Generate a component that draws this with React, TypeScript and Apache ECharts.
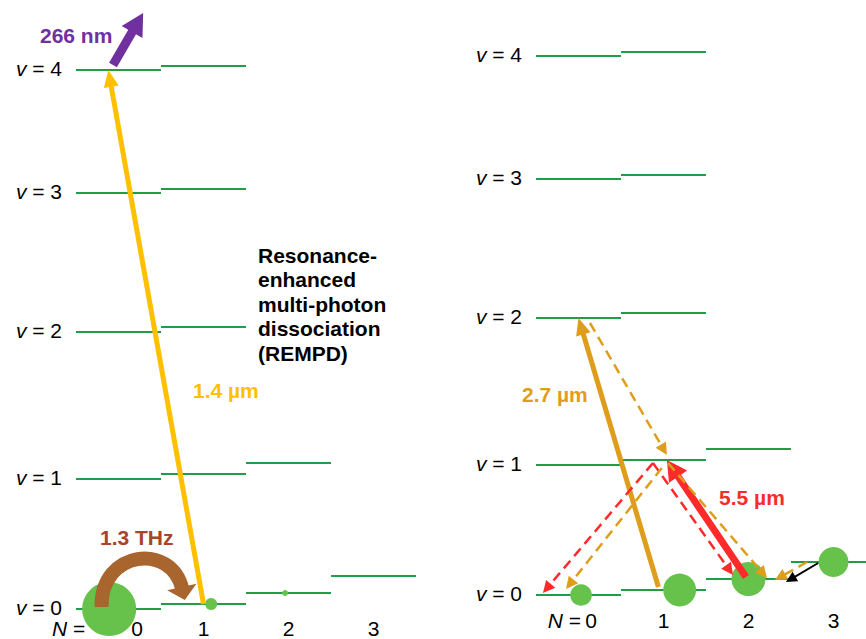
import React, { useEffect, useRef } from "react";
import * as echarts from "echarts";

// Rovibrational term energies (arbitrary units), one row per vibrational level v,
// one entry per rotational level N.
const levelEnergy: number[][] = [
  [0, 5, 16, 33], // v = 0
  [130, 135, 146], // v = 1
  [277, 282], // v = 2
  [416, 420], // v = 3
  [539, 543], // v = 4
];

const rotationalN = [0, 1, 2, 3];

// Relative populations of the v = 0 rotational levels, and where each blob sits along its level.
const popLeft = [0.81, 0.04, 0.01, 0];
const popLeftShift = [-0.11, 0.09, -0.04, 0];
const popRight = [0.13, 0.3, 0.32, 0.25];
const popRightShift = [0.03, 0.19, 0, 0];

const E = (v: number, n: number) => levelEnergy[v][n];

// Transition arrows: [N start, energy start, N end, energy end, style index]
const arrowsLeft: number[][] = [
  [1.0, E(0, 1), -0.12, E(4, 0), 0], // 1.4 µm overtone
  [-0.065, 544, 0.29, 596, 1], // 266 nm dissociation
];
const thzArc: number[][] = [[-0.2, 2, 0.78, 9]]; // 1.3 THz rotational transfer

const arrowsRight: number[][] = [
  [0.94, 8, 0, E(2, 0), 2], // 2.7 µm pump
  [1.97, 18, 1.04, E(1, 1), 3], // 5.5 µm pump
  [0.135, 272, 1.04, 140, 4], // decay v=2 -> v=1
  [0.876, 132, -0.418, 2, 5], // decay v=1 -> N=0
  [0.876, 132, 1.818, 20, 5], // decay v=1 -> N=2
  [0.98, 127, -0.147, 6, 4],
  [1.053, 132, 2.218, 17, 4],
  [2.69, 33, 2.31, 15, 4], // N=3 -> N=2
  [2.82, 32, 2.44, 13, 6], // collisional N=3 -> N=2
];

const annotationText = ["266 nm", "1.3 THz", "1.4 µm", "Resonance-\nenhanced\nmulti-photon\ndissociation\n(REMPD)", "2.7 µm", "5.5 µm"];
// [N, energy, text index, colour index]
const annotationsLeft: number[][] = [
  [-0.924, 574, 0, 0],
  [-0.218, 71.5, 1, 1],
  [0.876, 219, 2, 2],
  [1.641, 366, 3, 3],
];
const annotationsRight: number[][] = [
  [-0.665, 201, 4, 4],
  [1.653, 98, 5, 5],
];

const FONT = '"Liberation Sans", Arial, Helvetica, sans-serif';
const FS = 21;
const LEVEL_GREEN = "#1F9D48";
const BLOB_GREEN = "#66C24A";
const annotationColors = ["#7030A0", "#A9432A", "#FFC000", "#000000", "#DE9E1C", "#FF2A2A"];

const arrowStyles = [
  { color: "#FFC000", width: 5, head: 17, half: 7.5, dash: null },
  { color: "#7030A0", width: 9, head: 22, half: 12, dash: null },
  { color: "#DE9E1C", width: 5, head: 17, half: 7.5, dash: null },
  { color: "#FF2A2A", width: 7, head: 20, half: 11, dash: null },
  { color: "#DE9E1C", width: 2.5, head: 12, half: 6, dash: [10, 6] },
  { color: "#FF2A2A", width: 2.5, head: 12, half: 6, dash: [10, 6] },
  { color: "#000000", width: 2, head: 11, half: 5.5, dash: null },
];

const panels = [
  { nLabelX: [-0.39, 0.22, 1, 2, 3], nLabelDy: 19 },
  { nLabelX: [0.03, 0.147, 1, 2, 3], nLabelDy: 25 },
];

function arrowElement(p0: number[], p1: number[], st: any) {
  const dx = p1[0] - p0[0];
  const dy = p1[1] - p0[1];
  const len = Math.hypot(dx, dy) || 1;
  const ux = dx / len;
  const uy = dy / len;
  const px = -uy;
  const py = ux;
  const bx = p1[0] - ux * st.head;
  const by = p1[1] - uy * st.head;
  const ex = p1[0] - ux * st.head * 0.8;
  const ey = p1[1] - uy * st.head * 0.8;
  return {
    type: "group",
    children: [
      {
        type: "line",
        shape: { x1: p0[0], y1: p0[1], x2: ex, y2: ey },
        style: { stroke: st.color, lineWidth: st.width, lineDash: st.dash || undefined, lineCap: "butt" },
      },
      {
        type: "polygon",
        shape: { points: [[p1[0], p1[1]], [bx + px * st.half, by + py * st.half], [bx - px * st.half, by - py * st.half]] },
        style: { fill: st.color },
      },
    ],
  };
}

function levelData() {
  const out: number[][] = [];
  levelEnergy.forEach((row, v) => row.forEach((e, n) => out.push([n, e, v])));
  return out;
}

const italicRich = { i: { fontStyle: "italic", fontSize: FS, fontFamily: FONT, fill: "#000" } };

function buildOption() {
  const series: any[] = [];
  [0, 1].forEach((gi) => {
    const axis = { xAxisIndex: gi, yAxisIndex: gi };
    // energy levels with v labels
    series.push({
      type: "custom",
      ...axis,
      clip: false,
      z: 1,
      data: levelData(),
      renderItem: (params: any, api: any) => {
        const n = api.value(0);
        const e = api.value(1);
        const v = api.value(2);
        const a = api.coord([n - 0.5, e]);
        const b = api.coord([n + 0.5, e]);
        const children: any[] = [
          { type: "line", shape: { x1: a[0], y1: a[1], x2: b[0], y2: b[1] }, style: { stroke: LEVEL_GREEN, lineWidth: 2 } },
        ];
        if (n === 0) {
          children.push({
            type: "text",
            x: a[0] - 14,
            y: a[1] - 2,
            style: {
              text: `{i|v} = ${v}`,
              align: "right",
              verticalAlign: "middle",
              font: `${FS}px ${FONT}`,
              fill: "#000",
              rich: italicRich,
            },
          });
        }
        return { type: "group", children };
      },
    });
    // N labels under the v = 0 ladder
    series.push({
      type: "custom",
      ...axis,
      clip: false,
      z: 1,
      data: panels[gi].nLabelX.map((x, i) => [x, E(0, 0), i]),
      renderItem: (params: any, api: any) => {
        const i = api.value(2);
        const p = api.coord([api.value(0), api.value(1)]);
        const text = i === 0 ? "{i|N} =" : String(rotationalN[i - 1]);
        return {
          type: "text",
          x: p[0],
          y: p[1] + panels[gi].nLabelDy,
          style: {
            text,
            align: i === 0 ? "right" : "center",
            verticalAlign: "middle",
            font: `${FS}px ${FONT}`,
            fill: "#000",
            rich: italicRich,
          },
        };
      },
    });
    // populations
    const pops = gi === 0 ? popLeft : popRight;
    const shifts = gi === 0 ? popLeftShift : popRightShift;
    series.push({
      type: "scatter",
      ...axis,
      z: 2,
      silent: true,
      symbolSize: (val: number[]) => 60 * Math.sqrt(val[2]),
      itemStyle: { color: BLOB_GREEN, opacity: 1 },
      data: rotationalN.filter((n) => pops[n] > 0).map((n) => [n + shifts[n], E(0, n), pops[n]]),
    });
    // transitions
    series.push({
      type: "custom",
      ...axis,
      clip: false,
      z: 3,
      data: gi === 0 ? arrowsLeft : arrowsRight,
      renderItem: (params: any, api: any) => {
        const p0 = api.coord([api.value(0), api.value(1)]);
        const p1 = api.coord([api.value(2), api.value(3)]);
        return arrowElement(p0, p1, arrowStyles[api.value(4)]);
      },
    });
    // annotations
    series.push({
      type: "custom",
      ...axis,
      clip: false,
      z: 4,
      data: gi === 0 ? annotationsLeft : annotationsRight,
      renderItem: (params: any, api: any) => {
        const p = api.coord([api.value(0), api.value(1)]);
        const ti = api.value(2);
        const multi = annotationText[ti].includes("\n");
        return {
          type: "text",
          x: p[0],
          y: p[1],
          style: {
            text: annotationText[ti],
            align: "left",
            verticalAlign: multi ? "top" : "middle",
            font: `bold ${FS}px ${FONT}`,
            lineHeight: multi ? 24.5 : undefined,
            fill: annotationColors[api.value(3)],
          },
        };
      },
    });
  });

  // curved rotational-transfer arrow (1.3 THz)
  series.push({
    type: "custom",
    xAxisIndex: 0,
    yAxisIndex: 0,
    clip: false,
    z: 3,
    data: thzArc,
    renderItem: (params: any, api: any) => {
      const s = api.coord([api.value(0), api.value(1)]);
      const t = api.coord([api.value(2), api.value(3)]);
      const color = "#A8652D";
      const base = [t[0] - 3, t[1] - 13];
      const dx = t[0] - base[0];
      const dy = t[1] - base[1];
      const len = Math.hypot(dx, dy);
      const ux = dx / len;
      const uy = dy / len;
      const half = 15;
      return {
        type: "group",
        children: [
          {
            type: "bezierCurve",
            shape: {
              x1: s[0],
              y1: s[1],
              cpx1: s[0] - 1,
              cpy1: s[1] - 57,
              cpx2: base[0] - ux * 46,
              cpy2: base[1] - uy * 46,
              x2: base[0] + ux * 2,
              y2: base[1] + uy * 2,
            },
            style: { stroke: color, lineWidth: 14, fill: null, lineCap: "butt" },
          },
          {
            type: "polygon",
            shape: {
              points: [
                [t[0], t[1]],
                [base[0] + uy * half, base[1] - ux * half],
                [base[0] - uy * half, base[1] + ux * half],
              ],
            },
            style: { fill: color },
          },
        ],
      };
    },
  });

  // both ladders use 85 px per rotational level; the right one runs off the page edge
  return {
    animation: false,
    backgroundColor: "#ffffff",
    grid: [
      { left: 76, top: 9, width: 340, height: 600 },
      { left: 536, top: 9, width: 330, height: 600 },
    ],
    xAxis: [
      { type: "value", gridIndex: 0, min: -0.5, max: 3.5, show: false },
      { type: "value", gridIndex: 1, min: -0.5, max: -0.5 + 330 / 85, show: false },
    ],
    yAxis: [
      { type: "value", gridIndex: 0, min: 0, max: 600, show: false },
      { type: "value", gridIndex: 1, min: -14, max: 586, show: false },
    ],
    series,
  };
}

export default function App() {
  const ref = useRef<HTMLDivElement>(null);
  useEffect(() => {
    document.body.style.margin = "0";
    if (!ref.current) return;
    const chart = echarts.init(ref.current, null, { renderer: "svg" });
    chart.setOption(buildOption() as any);
    return () => chart.dispose();
  }, []);
  return <div ref={ref} style={{ width: 866, height: 639 }} />;
}
